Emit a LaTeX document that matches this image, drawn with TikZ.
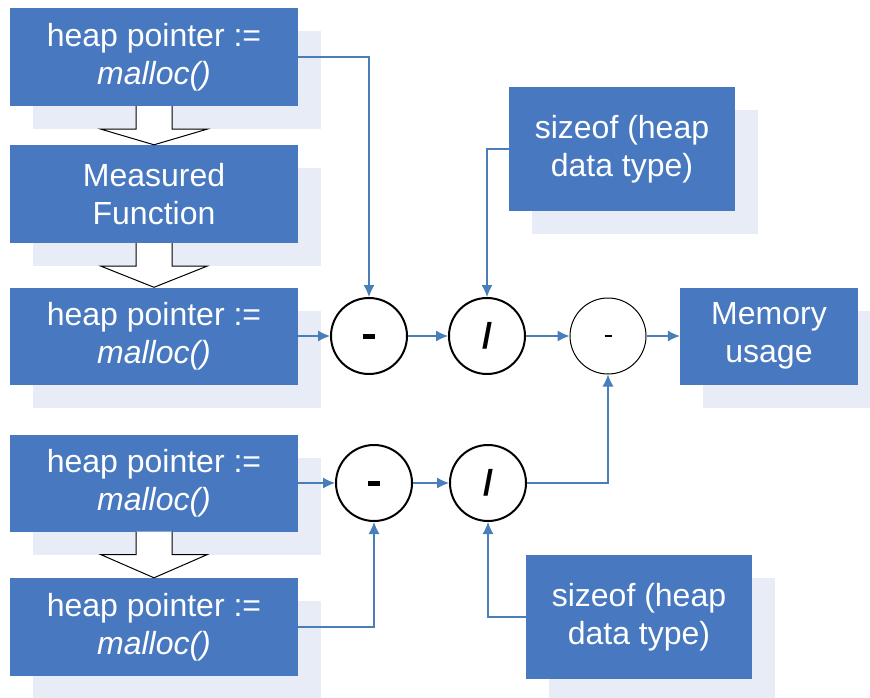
\documentclass[tikz,border=0pt]{standalone}
\usepackage{fontspec}
\setmainfont{Liberation Sans}
\usetikzlibrary{arrows.meta,shadows}

\definecolor{boxblue}{HTML}{4778C0}
\definecolor{lineblue}{HTML}{4A7EBB}
\definecolor{shadeblue}{HTML}{E7ECF6}

\newcommand{\opminus}[2]{\rule[\dimexpr-#2/2\relax]{#1}{#2}}

\tikzset{
	box/.style={fill=boxblue, text=white, inner sep=0pt, align=center,
		font=\fontsize{32}{38}\selectfont,
		drop shadow={shadow xshift=23pt, shadow yshift=-23pt, fill=shadeblue, opacity=1}},
	op/.style={circle, draw=black, line width=2pt, fill=white, minimum size=76pt, inner sep=0pt,
		font=\bfseries\fontsize{36}{36}\selectfont},
	conn/.style={draw=lineblue, line width=1.2pt, -{Latex[length=12pt,width=11pt]}},
	blockarrow/.style={draw=black, fill=white, line width=1pt}
}

\begin{document}
\begin{tikzpicture}[x=1pt,y=-1pt]
	\useasboundingbox (0,0) rectangle (870,698);

	% left column
	\node[box, minimum width=288pt, minimum height=98pt] (b1) at (154,57) {heap pointer :=\\\textit{malloc()}};
	\node[box, minimum width=288pt, minimum height=98pt] (b2) at (154,194) {Measured\\Function};
	\node[box, minimum width=288pt, minimum height=97pt] (b3) at (154,336) {heap pointer :=\\\textit{malloc()}};
	\node[box, minimum width=288pt, minimum height=97pt] (b4) at (154,483) {heap pointer :=\\\textit{malloc()}};
	\node[box, minimum width=288pt, minimum height=98pt] (b5) at (154,627) {heap pointer :=\\\textit{malloc()}};

	% right side
	\node[box, minimum width=226pt, minimum height=124pt] (s1) at (622,149) {sizeof (heap\\data type)};
	\node[box, minimum width=226pt, minimum height=124pt] (s2) at (639,617) {sizeof (heap\\data type)};
	\node[box, minimum width=178pt, minimum height=97pt] (mem) at (769,336) {Memory\\usage};

	% operators
	\node[op] (c1) at (369,336) {\opminus{12pt}{5pt}};
	\node[op] (c2) at (487,336) {/};
	\node[op, line width=1pt] (c3) at (608,336) {\opminus{7pt}{1.5pt}};
	\node[op] (c4) at (374,483) {\opminus{12pt}{5pt}};
	\node[op] (c5) at (488,483) {/};

	\foreach \a / \b in {b1/b2, b2/b3, b4/b5}
	{
		\filldraw[blockarrow] ([xshift=-18pt]\a.south) -- ([xshift=-18pt,yshift=-23pt]\a.south)
			-- ([xshift=-53pt,yshift=-23pt]\a.south) -- (\b.north)
			-- ([xshift=53pt,yshift=-23pt]\a.south) -- ([xshift=18pt,yshift=-23pt]\a.south)
			-- ([xshift=18pt]\a.south);
	};

	\foreach \i / \j in {b3/c1, c1/c2, c2/c3, c3/mem, b4/c4, c4/c5}
	{
		\path[conn] (\i) -- (\j);
	};
	\path[conn] (b1.east) -| (c1.north);
	\path[conn] (s1.west) -| (c2.north);
	\path[conn] (c5.east) -| (c3.south);
	\path[conn] (b5.east) -| (c4.south);
	\path[conn] (s2.west) -| (c5.south);
\end{tikzpicture}
\end{document}
